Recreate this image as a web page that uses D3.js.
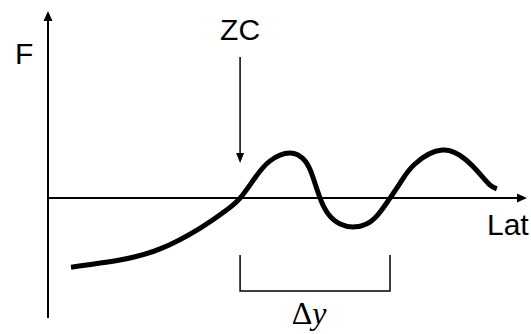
<!DOCTYPE html>
<html>
<head>
<meta charset="utf-8">
<script src="https://cdn.jsdelivr.net/npm/d3@7"></script>
<style>
  body { margin: 0; background: #fff; }
  svg { display: block; }
  text { font-family: Arial, "Liberation Sans", sans-serif; fill: #000; }
</style>
</head>
<body>
<svg id="chart" width="531" height="334"></svg>
<script>
// curve F(Lat)
var lat = [0.48, 1.50, 2.34, 3.17, 3.70, 4.01, 4.32, 4.63, 5.05, 5.37, 5.53, 5.68, 5.85, 6.10, 6.41, 6.72, 6.95, 7.14, 7.35, 7.66, 8.23, 8.71, 9.02, 9.23, 9.37];
var f   = [-1.44, -1.29, -1.06, -0.63, -0.27, 0, 0.42, 0.77, 0.94, 0.77, 0.44, 0, -0.33, -0.54, -0.60, -0.50, -0.27, 0, 0.31, 0.71, 1.0, 0.81, 0.50, 0.27, 0.19];
var latDomain = [0, 10];
var fDomain = [-2.5, 3.9];
var axisLabels = ["F", "Lat"];
var zcLabel = "ZC";

var svg = d3.select("#chart");
var xScale = d3.scaleLinear().domain(latDomain).range([48, 527]);
var yScale = d3.scaleLinear().domain(fDomain).range([318, 11]);

var data = lat.map((d, i) => ({lat: d, f: f[i]}));
// zero crossings of the curve
var zeros = data.filter(d => d.f === 0).map(d => d.lat);

// axes
var x0 = xScale(0), y0 = yScale(0);
svg.append("line")
    .attr("x1", x0).attr("x2", x0)
    .attr("y1", yScale(fDomain[0])).attr("y2", yScale(fDomain[1]) + 8)
    .attr("stroke", "#000").attr("stroke-width", 2);
svg.append("path")
    .attr("d", `M${x0},${yScale(fDomain[1])} l-4.5,10 l9,0 Z`)
    .attr("fill", "#000");

svg.append("line")
    .attr("x1", x0).attr("x2", xScale(latDomain[1]) - 8)
    .attr("y1", y0).attr("y2", y0)
    .attr("stroke", "#000").attr("stroke-width", 2);
svg.append("path")
    .attr("d", `M${xScale(latDomain[1])},${y0} l-10,-4.5 l0,9 Z`)
    .attr("fill", "#000");

svg.append("text")
    .attr("x", 15).attr("y", 64)
    .attr("font-size", 30)
    .text(axisLabels[0]);
svg.append("text")
    .attr("x", 487).attr("y", 235)
    .attr("font-size", 30)
    .text(axisLabels[1]);

// curve
var line = d3.line()
    .x(d => xScale(d.lat))
    .y(d => yScale(d.f))
    .curve(d3.curveNatural);
svg.append("path")
    .datum(data)
    .attr("d", line)
    .attr("fill", "none")
    .attr("stroke", "#000")
    .attr("stroke-width", 5);

// ZC arrow
var zx = xScale(zeros[0]);
svg.append("text")
    .attr("x", zx).attr("y", 40)
    .attr("text-anchor", "middle")
    .attr("font-size", 30)
    .text(zcLabel);
svg.append("line")
    .attr("x1", zx).attr("x2", zx)
    .attr("y1", 57).attr("y2", 154)
    .attr("stroke", "#000").attr("stroke-width", 1.5);
svg.append("path")
    .attr("d", `M${zx},${163} l-4,-10 l8,0 Z`)
    .attr("fill", "#000");

// delta y bracket between first and third zero crossing
var bx1 = xScale(zeros[0]), bx2 = xScale(zeros[2]);
svg.append("path")
    .attr("d", `M${bx1},255 L${bx1},291 L${bx2},291 L${bx2},255`)
    .attr("fill", "none")
    .attr("stroke", "#000")
    .attr("stroke-width", 1.5);

var dy = svg.append("text")
    .attr("x", (bx1 + bx2) / 2 - 6).attr("y", 324)
    .attr("text-anchor", "middle")
    .attr("font-size", 32)
    .style("font-family", "'Liberation Serif', 'Times New Roman', serif");
dy.append("tspan").text("Δ");
dy.append("tspan").attr("font-style", "italic").text("y");
</script>
</body>
</html>
